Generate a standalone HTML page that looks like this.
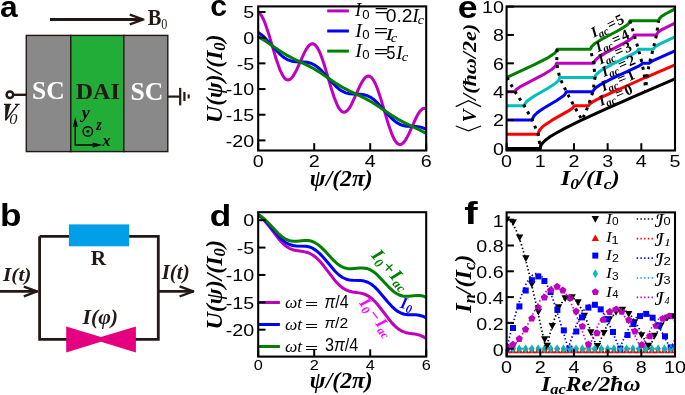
<!DOCTYPE html>
<html><head><meta charset="utf-8"><style>html,body{margin:0;padding:0;background:#fff;overflow:hidden}svg{display:block;will-change:transform}</style></head>
<body><svg width="685" height="395" viewBox="0 0 685 395">
<rect width="685" height="395" fill="#fff"/>
<g transform="translate(-0.06,16.75) scale(1.0603,0.9969)"><text x="0" y="0" font-family="Liberation Sans" font-size="30" font-weight="bold" font-style="normal" fill="#000" text-anchor="start" >a</text></g>
<g transform="translate(-0.05,225.94) scale(1.1733,1.0364)"><text x="0" y="0" font-family="Liberation Sans" font-size="30" font-weight="bold" font-style="normal" fill="#000" text-anchor="start" >b</text></g>
<g transform="translate(210.14,16.45) scale(1.0069,0.9908)"><text x="0" y="0" font-family="Liberation Sans" font-size="30" font-weight="bold" font-style="normal" fill="#000" text-anchor="start" >c</text></g>
<g transform="translate(209.83,225.75) scale(1.1733,1.0091)"><text x="0" y="0" font-family="Liberation Sans" font-size="30" font-weight="bold" font-style="normal" fill="#000" text-anchor="start" >d</text></g>
<g transform="translate(457.71,17.84) scale(1.1931,1.0462)"><text x="0" y="0" font-family="Liberation Sans" font-size="30" font-weight="bold" font-style="normal" fill="#000" text-anchor="start" >e</text></g>
<g transform="translate(464.23,224.10) scale(1.3474,1.0345)"><text x="0" y="0" font-family="Liberation Sans" font-size="30" font-weight="bold" font-style="normal" fill="#000" text-anchor="start" >f</text></g>
<line x1="50" y1="19.5" x2="142.5" y2="19.5" stroke="#231815" stroke-width="2.9"/>
<polyline points="129.8,14.6 143.4,19.5 129.8,24.4" fill="none" stroke="#231815" stroke-width="2.3" stroke-linejoin="round"/>
<g transform="translate(147.65,24.70) scale(0.8912,1.0400)"><text x="0" y="0" font-family="Liberation Serif" font-size="23" font-weight="bold" font-style="normal" fill="#231815" text-anchor="start" >B</text></g>
<g transform="translate(161.27,28.80) scale(0.8667,1.0162)"><text x="0" y="0" font-family="Liberation Serif" font-size="14" font-weight="normal" font-style="normal" fill="#231815" text-anchor="start" >0</text></g>
<rect x="26.3" y="35.4" width="44.5" height="116.2" fill="#898989" stroke="#231815" stroke-width="1.4"/>
<rect x="70.8" y="35.4" width="53" height="116.2" fill="#22ac38" stroke="#231815" stroke-width="1.4"/>
<rect x="123.8" y="35.4" width="44" height="116.2" fill="#898989" stroke="#231815" stroke-width="1.4"/>
<g transform="translate(32.05,99.22) scale(1.1564,1.1254)"><text x="0" y="0" font-family="Liberation Serif" font-size="22" font-weight="bold" font-style="normal" fill="#fff" text-anchor="start" >SC</text></g>
<g transform="translate(75.76,99.10) scale(1.0897,1.0897)"><text x="0" y="0" font-family="Liberation Serif" font-size="22" font-weight="bold" font-style="normal" fill="#231815" text-anchor="start" >DAI</text></g>
<g transform="translate(130.54,100.22) scale(1.1644,1.1186)"><text x="0" y="0" font-family="Liberation Serif" font-size="22" font-weight="bold" font-style="normal" fill="#fff" text-anchor="start" >SC</text></g>
<circle cx="9.9" cy="94.8" r="3.3" fill="#fff" stroke="#231815" stroke-width="2.5"/>
<line x1="13.2" y1="94.8" x2="26" y2="94.8" stroke="#231815" stroke-width="2.4"/>
<path d="M3.9,103.8 L11.2,103.8 L11.2,104.9 L10.2,104.9 L7.1,117.2 L16.6,104.9 L15.0,104.9 L15.0,103.8 L19.6,103.8 L19.6,104.9 L18.4,104.9 L6.4,120.6 L5.0,120.6 L5.3,104.9 L3.9,104.9 Z" fill="#231815"/>
<g transform="translate(9.37,123.60) scale(1.2696,1.1882)"><text x="0" y="0" font-family="Liberation Serif" font-size="13" font-weight="normal" font-style="italic" fill="#231815" text-anchor="start" >0</text></g>
<line x1="167.8" y1="96.6" x2="180" y2="96.6" stroke="#231815" stroke-width="2.2"/>
<line x1="180.2" y1="87.9" x2="180.2" y2="105.4" stroke="#231815" stroke-width="2.2"/>
<line x1="184.4" y1="92" x2="184.4" y2="101" stroke="#231815" stroke-width="2.2"/>
<line x1="188.7" y1="94.4" x2="188.7" y2="98.5" stroke="#231815" stroke-width="2.1"/>
<polyline points="75.3,120.5 75.3,145 99,145" fill="none" stroke="#000" stroke-width="1.4"/>
<polyline points="73.4,126.8 75.3,119.6 77.2,126.8" fill="none" stroke="#000" stroke-width="1.3"/>
<polyline points="92.6,143.1 99.8,145 92.6,146.9" fill="none" stroke="#000" stroke-width="1.3"/>
<circle cx="87.8" cy="131.4" r="4.7" fill="none" stroke="#000" stroke-width="1.4"/>
<circle cx="87.8" cy="131.4" r="1.4" fill="#000"/>
<g transform="translate(81.68,118.15) scale(1.1200,0.9860)"><text x="0" y="0" font-family="Liberation Serif" font-size="16" font-weight="bold" font-style="italic" fill="#000" text-anchor="start" >y</text></g>
<g transform="translate(96.24,130.00) scale(0.8741,1.0897)"><text x="0" y="0" font-family="Liberation Serif" font-size="16" font-weight="bold" font-style="italic" fill="#000" text-anchor="start" >z</text></g>
<g transform="translate(102.55,146.10) scale(1.0065,0.9931)"><text x="0" y="0" font-family="Liberation Serif" font-size="16" font-weight="bold" font-style="italic" fill="#000" text-anchor="start" >x</text></g>
<polyline points="39.6,236.3 158.3,236.3 158.3,339.4 39.6,339.4 39.6,236.3" fill="none" stroke="#231815" stroke-width="2.8"/>
<rect x="68.9" y="224.4" width="60.3" height="21.9" fill="#00a0e9"/>
<g transform="translate(90.75,264.90) scale(1.0133,1.0109)"><text x="0" y="0" font-family="Liberation Serif" font-size="21" font-weight="bold" font-style="normal" fill="#231815" text-anchor="start" >R</text></g>
<polygon points="66.2,326.5 100.9,337 135.9,326.5 135.9,352.5 100.9,341.7 66.2,352.5" fill="#e4007f"/>
<g transform="translate(82.46,323.60) scale(1.0346,1.0000)"><text x="0" y="0" font-family="Liberation Serif" font-size="21" font-weight="bold" font-style="italic" fill="#231815" text-anchor="start" >I(φ)</text></g>
<g transform="translate(3.05,280.56) scale(1.0148,0.9421)"><text x="0" y="0" font-family="Liberation Serif" font-size="21" font-weight="bold" font-style="italic" fill="#231815" text-anchor="start" >I(t)</text></g>
<line x1="0" y1="291.4" x2="37.5" y2="291.4" stroke="#231815" stroke-width="2.8"/>
<polyline points="23.8,286.5 37,291.4 23.8,296.3" fill="none" stroke="#231815" stroke-width="2.4" stroke-linejoin="round"/>
<g transform="translate(161.65,278.59) scale(1.0037,0.9579)"><text x="0" y="0" font-family="Liberation Serif" font-size="21" font-weight="bold" font-style="italic" fill="#231815" text-anchor="start" >I(t)</text></g>
<line x1="158.3" y1="291.4" x2="193.8" y2="291.4" stroke="#231815" stroke-width="2.8"/>
<polyline points="179.6,286.3 193.2,291.4 179.6,296.5" fill="none" stroke="#231815" stroke-width="2.4" stroke-linejoin="round"/>
<clipPath id="clipc"><rect x="258.2" y="6.4" width="168.0" height="144.1"/></clipPath>
<g clip-path="url(#clipc)">
<path d="M258.20,12.00 L259.88,13.42 L261.70,15.97 L263.52,19.51 L265.34,23.92 L268.70,33.90 L276.40,59.83 L280.04,70.05 L283.12,76.20 L284.66,78.23 L286.20,79.50 L287.88,80.01 L289.70,79.56 L291.52,78.12 L293.34,75.80 L296.70,69.69 L304.40,52.64 L306.36,49.06 L308.04,46.61 L309.58,44.98 L311.12,44.01 L312.66,43.77 L314.20,44.27 L315.74,45.54 L317.42,47.78 L319.10,50.88 L320.78,54.75 L324.28,64.83 L331.28,88.49 L334.22,97.54 L337.44,105.45 L338.98,108.25 L340.38,110.18 L342.20,111.77 L344.02,112.28 L345.84,111.75 L347.80,110.09 L349.62,107.64 L351.72,103.94 L359.70,86.34 L363.06,80.24 L364.88,77.92 L366.70,76.48 L368.52,76.03 L370.20,76.54 L371.88,77.96 L373.70,80.51 L375.52,84.05 L377.34,88.46 L380.70,98.44 L388.54,124.81 L392.32,135.26 L394.14,139.08 L395.82,141.75 L397.64,143.66 L399.32,144.48 L400.86,144.43 L402.54,143.55 L404.22,141.87 L405.90,139.47 L408.98,133.65 L416.26,117.47 L418.08,114.07 L419.76,111.52 L421.44,109.64 L423.12,108.55 L424.66,108.31 L426.20,108.81" fill="none" stroke="#bf00bf" stroke-width="3" stroke-linejoin="round"/>
<path d="M258.20,32.54 L261.42,34.73 L264.78,37.67 L278.08,52.28 L281.30,55.37 L284.24,57.70 L288.02,59.89 L291.80,61.20 L295.72,61.78 L303.70,61.93 L307.06,62.26 L310.70,63.19 L314.20,64.81 L317.70,67.22 L321.34,70.49 L332.40,82.77 L336.04,86.49 L339.12,89.14 L342.20,91.22 L345.70,92.85 L349.34,93.77 L352.70,94.10 L360.40,94.24 L364.04,94.71 L367.12,95.61 L370.20,97.08 L373.70,99.49 L377.34,102.76 L388.68,115.34 L392.60,119.28 L396.38,122.34 L400.16,124.50 L403.10,125.56 L406.32,126.18 L416.12,126.50 L419.62,126.90 L422.98,127.83 L426.20,129.36" fill="none" stroke="#0000ff" stroke-width="3" stroke-linejoin="round"/>
<path d="M258.20,36.65 L265.34,41.08 L280.04,51.06 L286.20,54.84 L292.64,58.30 L306.50,64.85 L313.08,68.29 L320.08,72.53 L335.06,82.69 L342.20,87.11 L349.34,90.91 L364.60,98.16 L372.02,102.26 L378.18,106.18 L391.62,115.32 L398.20,119.38 L405.34,123.19 L420.04,130.15 L426.20,133.46" fill="none" stroke="#008000" stroke-width="3" stroke-linejoin="round"/>
</g>
<line x1="327.2" y1="10.9" x2="348.9" y2="10.9" stroke="#bf00bf" stroke-width="3"/>
<line x1="327.2" y1="31.0" x2="348.9" y2="31.0" stroke="#0000ff" stroke-width="3"/>
<line x1="327.2" y1="51.1" x2="348.9" y2="51.1" stroke="#008000" stroke-width="3"/>
<g transform="translate(355.00,16.40) scale(1.1200,1.1091)"><text x="0" y="0" font-family="Liberation Serif" font-size="17" font-weight="normal" font-style="italic" fill="#000" text-anchor="start" >I</text></g>
<g transform="translate(362.25,19.20) scale(1.0957,1.0788)"><text x="0" y="0" font-family="Liberation Sans" font-size="12" font-weight="normal" font-style="normal" fill="#000" text-anchor="start" >0</text></g>
<g transform="translate(374.51,16.24) scale(1.5862,1.0947)"><text x="0" y="0" font-family="Liberation Sans" font-size="15" font-weight="normal" font-style="normal" fill="#000" text-anchor="start" >=</text></g>
<g transform="translate(385.75,21.53) scale(1.1364,1.0750)"><text x="0" y="0" font-family="Liberation Sans" font-size="17" font-weight="normal" font-style="normal" fill="#000" text-anchor="start" >0.2</text></g>
<g transform="translate(412.20,21.80) scale(1.1520,1.1455)"><text x="0" y="0" font-family="Liberation Serif" font-size="17" font-weight="normal" font-style="italic" fill="#000" text-anchor="start" >I</text></g>
<g transform="translate(417.72,24.00) scale(1.1579,1.0182)"><text x="0" y="0" font-family="Liberation Serif" font-size="12" font-weight="normal" font-style="italic" fill="#000" text-anchor="start" >c</text></g>
<g transform="translate(355.20,37.20) scale(1.1840,1.1364)"><text x="0" y="0" font-family="Liberation Serif" font-size="17" font-weight="normal" font-style="italic" fill="#000" text-anchor="start" >I</text></g>
<g transform="translate(362.25,39.20) scale(1.0957,0.9939)"><text x="0" y="0" font-family="Liberation Sans" font-size="12" font-weight="normal" font-style="normal" fill="#000" text-anchor="start" >0</text></g>
<g transform="translate(373.76,35.98) scale(1.6552,1.0316)"><text x="0" y="0" font-family="Liberation Sans" font-size="15" font-weight="normal" font-style="normal" fill="#000" text-anchor="start" >=</text></g>
<g transform="translate(385.50,39.80) scale(1.3120,1.0091)"><text x="0" y="0" font-family="Liberation Serif" font-size="17" font-weight="normal" font-style="italic" fill="#000" text-anchor="start" >I</text></g>
<g transform="translate(390.69,42.10) scale(1.2211,1.0545)"><text x="0" y="0" font-family="Liberation Serif" font-size="12" font-weight="normal" font-style="italic" fill="#000" text-anchor="start" >c</text></g>
<g transform="translate(355.20,57.00) scale(1.1840,1.1455)"><text x="0" y="0" font-family="Liberation Serif" font-size="17" font-weight="normal" font-style="italic" fill="#000" text-anchor="start" >I</text></g>
<g transform="translate(362.25,59.30) scale(1.0957,1.0303)"><text x="0" y="0" font-family="Liberation Sans" font-size="12" font-weight="normal" font-style="normal" fill="#000" text-anchor="start" >0</text></g>
<g transform="translate(373.73,56.69) scale(1.6966,1.1579)"><text x="0" y="0" font-family="Liberation Sans" font-size="15" font-weight="normal" font-style="normal" fill="#000" text-anchor="start" >=</text></g>
<g transform="translate(386.27,58.73) scale(0.9750,1.0667)"><text x="0" y="0" font-family="Liberation Sans" font-size="17" font-weight="normal" font-style="normal" fill="#000" text-anchor="start" >5</text></g>
<g transform="translate(396.00,59.00) scale(1.2000,1.0545)"><text x="0" y="0" font-family="Liberation Serif" font-size="17" font-weight="normal" font-style="italic" fill="#000" text-anchor="start" >I</text></g>
<g transform="translate(401.79,61.30) scale(1.2211,1.0545)"><text x="0" y="0" font-family="Liberation Serif" font-size="12" font-weight="normal" font-style="italic" fill="#000" text-anchor="start" >c</text></g>
<rect x="258.2" y="6.4" width="168.0" height="144.1" fill="none" stroke="#000" stroke-width="2.1"/>
<line x1="258.2" y1="12.00" x2="265.5" y2="12.00" stroke="#000" stroke-width="2"/>
<g transform="translate(254.20,18.20) scale(1.14,1)"><text x="0" y="0" font-family="Liberation Sans" font-size="17.3" font-weight="normal" font-style="normal" fill="#000" text-anchor="end" >5</text></g>
<line x1="258.2" y1="37.68" x2="265.5" y2="37.68" stroke="#000" stroke-width="2"/>
<g transform="translate(254.20,43.88) scale(1.14,1)"><text x="0" y="0" font-family="Liberation Sans" font-size="17.3" font-weight="normal" font-style="normal" fill="#000" text-anchor="end" >0</text></g>
<line x1="258.2" y1="63.36" x2="265.5" y2="63.36" stroke="#000" stroke-width="2"/>
<g transform="translate(254.20,69.56) scale(1.14,1)"><text x="0" y="0" font-family="Liberation Sans" font-size="17.3" font-weight="normal" font-style="normal" fill="#000" text-anchor="end" >-5</text></g>
<line x1="258.2" y1="89.04" x2="265.5" y2="89.04" stroke="#000" stroke-width="2"/>
<g transform="translate(254.20,95.24) scale(1.14,1)"><text x="0" y="0" font-family="Liberation Sans" font-size="17.3" font-weight="normal" font-style="normal" fill="#000" text-anchor="end" >-10</text></g>
<line x1="258.2" y1="114.72" x2="265.5" y2="114.72" stroke="#000" stroke-width="2"/>
<g transform="translate(254.20,120.92) scale(1.14,1)"><text x="0" y="0" font-family="Liberation Sans" font-size="17.3" font-weight="normal" font-style="normal" fill="#000" text-anchor="end" >-15</text></g>
<line x1="258.2" y1="140.40" x2="265.5" y2="140.40" stroke="#000" stroke-width="2"/>
<g transform="translate(254.20,146.60) scale(1.14,1)"><text x="0" y="0" font-family="Liberation Sans" font-size="17.3" font-weight="normal" font-style="normal" fill="#000" text-anchor="end" >-20</text></g>
<line x1="258.20" y1="150.5" x2="258.20" y2="143.2" stroke="#000" stroke-width="2"/>
<g transform="translate(258.20,167.00) scale(1.14,1)"><text x="0" y="0" font-family="Liberation Sans" font-size="17.3" font-weight="normal" font-style="normal" fill="#000" text-anchor="middle" >0</text></g>
<line x1="314.20" y1="150.5" x2="314.20" y2="143.2" stroke="#000" stroke-width="2"/>
<g transform="translate(314.20,167.00) scale(1.14,1)"><text x="0" y="0" font-family="Liberation Sans" font-size="17.3" font-weight="normal" font-style="normal" fill="#000" text-anchor="middle" >2</text></g>
<line x1="370.20" y1="150.5" x2="370.20" y2="143.2" stroke="#000" stroke-width="2"/>
<g transform="translate(370.20,167.00) scale(1.14,1)"><text x="0" y="0" font-family="Liberation Sans" font-size="17.3" font-weight="normal" font-style="normal" fill="#000" text-anchor="middle" >4</text></g>
<line x1="426.20" y1="150.5" x2="426.20" y2="143.2" stroke="#000" stroke-width="2"/>
<g transform="translate(426.20,167.00) scale(1.14,1)"><text x="0" y="0" font-family="Liberation Sans" font-size="17.3" font-weight="normal" font-style="normal" fill="#000" text-anchor="middle" >6</text></g>
<g transform="translate(221.73,78.70) scale(1.1222,1.1833)"><g transform="rotate(-90)"><text x="0" y="0" font-family="Liberation Serif" font-size="20" font-weight="bold" font-style="italic" fill="#000" text-anchor="middle" >U(ψ)/(I<tspan font-size="14" dy="3">0</tspan><tspan dy="-3">)</tspan></text></g></g>
<g transform="translate(309.87,185.54) scale(1.1271,1.0789)"><text x="0" y="0" font-family="Liberation Serif" font-size="21" font-weight="bold" font-style="italic" fill="#000" text-anchor="start" >ψ/(2π)</text></g>
<clipPath id="clipd"><rect x="258.2" y="212.2" width="168.0" height="144.40000000000003"/></clipPath>
<g clip-path="url(#clipd)">
<path d="M258.20,214.72 L261.28,217.32 L264.36,220.52 L268.00,224.94 L279.06,239.39 L282.70,243.32 L286.20,246.32 L289.28,248.26 L292.64,249.69 L296.14,250.58 L303.42,251.60 L306.50,252.25 L309.86,253.44 L313.08,255.22 L316.58,257.95 L320.08,261.49 L323.86,266.04 L335.06,280.67 L338.70,284.60 L342.20,287.60 L345.70,289.76 L349.34,291.19 L352.70,291.96 L360.68,293.11 L364.60,294.20 L368.38,296.06 L372.02,298.74 L374.96,301.56 L378.18,305.22 L391.62,322.60 L394.98,326.15 L398.20,328.88 L401.70,331.04 L405.34,332.47 L408.70,333.24 L416.40,334.33 L420.04,335.28 L423.12,336.62 L426.20,338.57" fill="none" stroke="#bf00bf" stroke-width="3" stroke-linejoin="round"/>
<path d="M258.20,214.72 L261.28,216.94 L264.36,219.77 L268.00,223.73 L279.06,236.82 L282.70,240.31 L286.20,242.88 L289.42,244.50 L292.78,245.49 L296.28,245.92 L306.22,246.28 L309.44,246.96 L312.38,248.12 L316.02,250.36 L319.80,253.61 L323.72,257.81 L335.06,271.22 L338.70,274.71 L342.20,277.28 L345.70,279.01 L349.34,280.00 L352.70,280.35 L360.54,280.50 L364.32,281.06 L367.82,282.26 L371.32,284.26 L374.54,286.83 L377.90,290.18 L388.26,302.50 L391.76,306.35 L395.12,309.46 L398.20,311.68 L401.28,313.24 L404.36,314.20 L408.00,314.71 L415.70,314.86 L419.06,315.21 L422.70,316.19 L426.20,317.93" fill="none" stroke="#0000ff" stroke-width="3" stroke-linejoin="round"/>
<path d="M258.20,214.72 L261.28,216.56 L264.36,219.01 L268.00,222.53 L279.06,234.26 L282.70,237.30 L286.20,239.44 L289.70,240.74 L293.34,241.28 L296.70,241.22 L304.40,240.42 L308.04,240.47 L311.12,241.06 L314.20,242.25 L317.42,244.18 L320.78,246.90 L324.28,250.34 L334.22,260.98 L337.44,263.85 L340.38,265.95 L344.02,267.74 L347.80,268.66 L351.72,268.80 L359.70,267.99 L363.06,267.92 L366.70,268.46 L370.20,269.77 L373.70,271.90 L377.34,274.94 L388.54,286.82 L392.32,290.44 L395.82,293.11 L399.32,294.98 L402.54,295.97 L405.90,296.34 L408.98,296.23 L416.26,295.47 L419.76,295.49 L423.12,296.10 L426.20,297.29" fill="none" stroke="#008000" stroke-width="3" stroke-linejoin="round"/>
</g>
<line x1="258.2" y1="302.5" x2="279.9" y2="302.5" stroke="#bf00bf" stroke-width="3"/>
<g transform="translate(284.95,308.15) scale(1.0903,0.9946)"><text x="0" y="0" font-family="Liberation Serif" font-size="16" font-weight="normal" font-style="italic" fill="#000" text-anchor="start" >ωt</text></g>
<g transform="translate(304.94,308.11) scale(1.4194,0.8400)"><text x="0" y="0" font-family="Liberation Sans" font-size="16" font-weight="normal" font-style="normal" fill="#000" text-anchor="start" >=</text></g>
<g transform="translate(324.45,307.53) scale(1.0022,1.0979)"><text x="0" y="0" font-family="Liberation Sans" font-size="16" font-weight="normal" font-style="normal" fill="#000" text-anchor="start" ><tspan font-style="italic">π</tspan>/4</text></g>
<line x1="258.2" y1="324.5" x2="279.9" y2="324.5" stroke="#0000ff" stroke-width="3"/>
<g transform="translate(284.95,330.15) scale(1.0903,0.9946)"><text x="0" y="0" font-family="Liberation Serif" font-size="16" font-weight="normal" font-style="italic" fill="#000" text-anchor="start" >ωt</text></g>
<g transform="translate(304.94,330.11) scale(1.4194,0.8400)"><text x="0" y="0" font-family="Liberation Sans" font-size="16" font-weight="normal" font-style="normal" fill="#000" text-anchor="start" >=</text></g>
<g transform="translate(324.46,327.77) scale(0.9867,0.9277)"><text x="0" y="0" font-family="Liberation Sans" font-size="16" font-weight="normal" font-style="normal" fill="#000" text-anchor="start" ><tspan font-style="italic">π</tspan>/2</text></g>
<line x1="258.2" y1="346.5" x2="279.9" y2="346.5" stroke="#008000" stroke-width="3"/>
<g transform="translate(284.95,352.15) scale(1.0903,0.9946)"><text x="0" y="0" font-family="Liberation Serif" font-size="16" font-weight="normal" font-style="italic" fill="#000" text-anchor="start" >ωt</text></g>
<g transform="translate(304.94,352.11) scale(1.4194,0.8400)"><text x="0" y="0" font-family="Liberation Sans" font-size="16" font-weight="normal" font-style="normal" fill="#000" text-anchor="start" >=</text></g>
<g transform="translate(324.94,351.22) scale(1.0110,1.1319)"><text x="0" y="0" font-family="Liberation Sans" font-size="16" font-weight="normal" font-style="normal" fill="#000" text-anchor="start" >3<tspan font-style="italic">π</tspan>/4</text></g>
<rect x="258.2" y="212.2" width="168.0" height="144.40000000000003" fill="none" stroke="#000" stroke-width="2.1"/>
<line x1="258.2" y1="220.20" x2="265.5" y2="220.20" stroke="#000" stroke-width="2"/>
<g transform="translate(254.20,226.40) scale(1.14,1)"><text x="0" y="0" font-family="Liberation Sans" font-size="17.3" font-weight="normal" font-style="normal" fill="#000" text-anchor="end" >0</text></g>
<line x1="258.2" y1="247.57" x2="265.5" y2="247.57" stroke="#000" stroke-width="2"/>
<g transform="translate(254.20,253.77) scale(1.14,1)"><text x="0" y="0" font-family="Liberation Sans" font-size="17.3" font-weight="normal" font-style="normal" fill="#000" text-anchor="end" >-5</text></g>
<line x1="258.2" y1="274.95" x2="265.5" y2="274.95" stroke="#000" stroke-width="2"/>
<g transform="translate(254.20,281.15) scale(1.14,1)"><text x="0" y="0" font-family="Liberation Sans" font-size="17.3" font-weight="normal" font-style="normal" fill="#000" text-anchor="end" >-10</text></g>
<line x1="258.2" y1="302.32" x2="265.5" y2="302.32" stroke="#000" stroke-width="2"/>
<g transform="translate(254.20,308.52) scale(1.14,1)"><text x="0" y="0" font-family="Liberation Sans" font-size="17.3" font-weight="normal" font-style="normal" fill="#000" text-anchor="end" >-15</text></g>
<line x1="258.2" y1="329.70" x2="265.5" y2="329.70" stroke="#000" stroke-width="2"/>
<g transform="translate(254.20,335.90) scale(1.14,1)"><text x="0" y="0" font-family="Liberation Sans" font-size="17.3" font-weight="normal" font-style="normal" fill="#000" text-anchor="end" >-20</text></g>
<line x1="258.20" y1="356.6" x2="258.20" y2="349.3" stroke="#000" stroke-width="2"/>
<g transform="translate(258.20,370.20) scale(1.14,1)"><text x="0" y="0" font-family="Liberation Sans" font-size="14.3" font-weight="normal" font-style="normal" fill="#000" text-anchor="middle" >0</text></g>
<line x1="314.20" y1="356.6" x2="314.20" y2="349.3" stroke="#000" stroke-width="2"/>
<g transform="translate(314.20,370.20) scale(1.14,1)"><text x="0" y="0" font-family="Liberation Sans" font-size="14.3" font-weight="normal" font-style="normal" fill="#000" text-anchor="middle" >2</text></g>
<line x1="370.20" y1="356.6" x2="370.20" y2="349.3" stroke="#000" stroke-width="2"/>
<g transform="translate(370.20,370.20) scale(1.14,1)"><text x="0" y="0" font-family="Liberation Sans" font-size="14.3" font-weight="normal" font-style="normal" fill="#000" text-anchor="middle" >4</text></g>
<line x1="426.20" y1="356.6" x2="426.20" y2="349.3" stroke="#000" stroke-width="2"/>
<g transform="translate(426.20,370.20) scale(1.14,1)"><text x="0" y="0" font-family="Liberation Sans" font-size="14.3" font-weight="normal" font-style="normal" fill="#000" text-anchor="middle" >6</text></g>
<g transform="translate(221.73,284.75) scale(1.1222,1.1958)"><g transform="rotate(-90)"><text x="0" y="0" font-family="Liberation Serif" font-size="20" font-weight="bold" font-style="italic" fill="#000" text-anchor="middle" >U(ψ)/(I<tspan font-size="14" dy="3">0</tspan><tspan dy="-3">)</tspan></text></g></g>
<g transform="translate(309.87,388.02) scale(1.1271,1.0632)"><text x="0" y="0" font-family="Liberation Serif" font-size="21" font-weight="bold" font-style="italic" fill="#000" text-anchor="start" >ψ/(2π)</text></g>
<g transform="translate(370.5,256) rotate(48)"><text x="0" y="0" font-family="Liberation Serif" font-size="19" font-weight="bold" font-style="italic" fill="#008000" text-anchor="start" >I<tspan font-size="13" dy="3">0</tspan><tspan dy="-3" dx="1.5">+</tspan><tspan dx="1.5">I</tspan><tspan font-size="13" dy="3">ac</tspan></text></g>
<g transform="translate(399.5,307.5) rotate(14)"><text x="0" y="0" font-family="Liberation Serif" font-size="16.5" font-weight="bold" font-style="italic" fill="#0000ff" text-anchor="start" >I<tspan font-size="12" dy="3">0</tspan></text></g>
<g transform="translate(358.8,303.2) rotate(52)"><text x="0" y="0" font-family="Liberation Serif" font-size="17" font-weight="bold" font-style="italic" fill="#ff00ff" text-anchor="start" >I<tspan font-size="12" dy="3">0</tspan><tspan dy="-3" dx="1.6">−</tspan><tspan dx="1.6">I</tspan><tspan font-size="12" dy="3">ac</tspan></text></g>
<clipPath id="clipe"><rect x="506.6" y="6.5" width="168.39999999999998" height="144.0"/></clipPath>
<g clip-path="url(#clipe)">
<path d="M506.60,148.40 L540.28,148.40 L540.70,146.16 L541.54,144.45 L542.81,142.75 L545.75,139.92 L549.96,136.83 L555.01,133.70 L564.28,128.64 L579.85,120.97 L603.85,109.97 L636.69,95.47 L675.00,78.93" fill="none" stroke="#000" stroke-width="3" stroke-linejoin="round"/>
<path d="M506.60,134.22 L538.18,134.22 L538.60,132.23 L539.86,129.72 L542.81,126.59 L544.91,124.89 L551.65,120.38 L570.59,109.62 L573.12,107.62 L573.96,105.86 L588.27,105.86 L588.70,105.57 L589.54,104.15 L592.06,102.23 L596.69,99.67 L603.43,96.37 L642.58,78.75 L644.69,77.50 L646.37,77.50 L650.58,75.36 L675.00,64.80" fill="none" stroke="#ff0000" stroke-width="3" stroke-linejoin="round"/>
<path d="M506.60,120.04 L532.28,120.04 L533.12,117.50 L533.97,116.08 L536.91,113.03 L539.86,110.71 L543.65,108.17 L556.28,100.73 L562.17,96.81 L564.28,95.07 L565.54,93.45 L566.38,91.68 L592.90,91.68 L593.75,89.99 L595.43,88.05 L600.90,84.35 L611.85,78.68 L639.22,65.79 L641.74,64.14 L642.16,63.32 L649.32,63.32 L650.16,62.46 L653.11,60.58 L675.00,50.77" fill="none" stroke="#0000ff" stroke-width="3" stroke-linejoin="round"/>
<path d="M506.60,105.86 L524.28,105.86 L525.12,103.58 L526.39,101.92 L528.49,99.95 L534.39,95.97 L547.02,88.81 L554.59,84.00 L558.38,80.61 L559.23,79.19 L559.65,77.50 L595.01,77.50 L595.43,76.05 L596.69,74.11 L599.22,71.86 L602.59,69.59 L611.43,64.69 L632.48,54.16 L635.85,52.17 L637.53,50.81 L638.37,49.14 L653.11,49.14 L655.21,46.68 L659.00,44.38 L675.00,36.88" fill="none" stroke="#00bfbf" stroke-width="3" stroke-linejoin="round"/>
<path d="M506.60,91.68 L515.02,91.68 L515.44,90.57 L516.70,89.14 L520.91,86.32 L542.81,74.92 L551.23,69.83 L554.59,66.99 L555.86,65.03 L556.28,63.61 L556.70,63.32 L593.75,63.32 L594.17,63.03 L594.59,61.61 L595.85,59.66 L598.80,57.11 L605.54,52.89 L624.06,43.13 L629.95,39.64 L632.48,37.77 L633.74,36.06 L634.16,34.96 L656.48,34.96 L657.74,32.72 L659.00,31.59 L662.37,29.35 L675.00,23.01" fill="none" stroke="#bf00bf" stroke-width="3" stroke-linejoin="round"/>
<path d="M506.60,77.50 L534.39,64.70 L548.28,57.59 L554.59,53.35 L556.70,50.83 L557.12,49.14 L590.38,49.14 L591.64,46.52 L594.17,44.06 L601.75,39.25 L616.48,31.47 L623.22,27.60 L627.43,24.72 L628.27,23.87 L629.53,22.19 L629.95,20.78 L658.58,20.78 L659.42,18.68 L661.11,16.85 L665.74,13.74 L675.00,8.94" fill="none" stroke="#008000" stroke-width="3" stroke-linejoin="round"/>
<path d="M507.00,77.50 L515.02,91.68 L524.28,105.86 L532.30,120.04 L538.19,134.22 L540.28,148.40" fill="none" stroke="#000" stroke-width="3" stroke-dasharray="3 4.95"/>
<path d="M557.12,49.14 L556.72,63.32 L559.65,77.50 L566.38,91.68 L573.96,105.86 L582.04,120.04 L588.27,105.86 L592.89,91.68 L595.01,77.50 L593.76,63.32 L590.40,49.14" fill="none" stroke="#000" stroke-width="3" stroke-dasharray="3 4.95"/>
<path d="M629.94,20.78 L634.18,34.96 L638.36,49.14 L642.16,63.32 L644.69,77.50 L645.53,91.68 L646.81,77.50 L649.34,63.32 L653.11,49.14 L656.48,34.96 L658.56,20.78" fill="none" stroke="#000" stroke-width="3" stroke-dasharray="3 4.95"/>
</g>
<rect x="506.6" y="6.5" width="168.39999999999998" height="144.0" fill="none" stroke="#000" stroke-width="2.1"/>
<line x1="506.6" y1="148.40" x2="513.9" y2="148.40" stroke="#000" stroke-width="2"/>
<g transform="translate(504.00,154.60) scale(1.14,1)"><text x="0" y="0" font-family="Liberation Sans" font-size="17.3" font-weight="normal" font-style="normal" fill="#000" text-anchor="end" >0</text></g>
<line x1="506.6" y1="120.04" x2="513.9" y2="120.04" stroke="#000" stroke-width="2"/>
<g transform="translate(504.00,126.24) scale(1.14,1)"><text x="0" y="0" font-family="Liberation Sans" font-size="17.3" font-weight="normal" font-style="normal" fill="#000" text-anchor="end" >2</text></g>
<line x1="506.6" y1="91.68" x2="513.9" y2="91.68" stroke="#000" stroke-width="2"/>
<g transform="translate(504.00,97.88) scale(1.14,1)"><text x="0" y="0" font-family="Liberation Sans" font-size="17.3" font-weight="normal" font-style="normal" fill="#000" text-anchor="end" >4</text></g>
<line x1="506.6" y1="63.32" x2="513.9" y2="63.32" stroke="#000" stroke-width="2"/>
<g transform="translate(504.00,69.52) scale(1.14,1)"><text x="0" y="0" font-family="Liberation Sans" font-size="17.3" font-weight="normal" font-style="normal" fill="#000" text-anchor="end" >6</text></g>
<line x1="506.6" y1="34.96" x2="513.9" y2="34.96" stroke="#000" stroke-width="2"/>
<g transform="translate(504.00,41.16) scale(1.14,1)"><text x="0" y="0" font-family="Liberation Sans" font-size="17.3" font-weight="normal" font-style="normal" fill="#000" text-anchor="end" >8</text></g>
<line x1="506.6" y1="6.60" x2="513.9" y2="6.60" stroke="#000" stroke-width="2"/>
<g transform="translate(504.00,12.80) scale(1.14,1)"><text x="0" y="0" font-family="Liberation Sans" font-size="17.3" font-weight="normal" font-style="normal" fill="#000" text-anchor="end" >10</text></g>
<line x1="506.60" y1="150.5" x2="506.60" y2="143.2" stroke="#000" stroke-width="2"/>
<g transform="translate(506.60,166.90) scale(1.14,1)"><text x="0" y="0" font-family="Liberation Sans" font-size="17.3" font-weight="normal" font-style="normal" fill="#000" text-anchor="middle" >0</text></g>
<line x1="540.28" y1="150.5" x2="540.28" y2="143.2" stroke="#000" stroke-width="2"/>
<g transform="translate(540.28,166.90) scale(1.14,1)"><text x="0" y="0" font-family="Liberation Sans" font-size="17.3" font-weight="normal" font-style="normal" fill="#000" text-anchor="middle" >1</text></g>
<line x1="573.96" y1="150.5" x2="573.96" y2="143.2" stroke="#000" stroke-width="2"/>
<g transform="translate(573.96,166.90) scale(1.14,1)"><text x="0" y="0" font-family="Liberation Sans" font-size="17.3" font-weight="normal" font-style="normal" fill="#000" text-anchor="middle" >2</text></g>
<line x1="607.64" y1="150.5" x2="607.64" y2="143.2" stroke="#000" stroke-width="2"/>
<g transform="translate(607.64,166.90) scale(1.14,1)"><text x="0" y="0" font-family="Liberation Sans" font-size="17.3" font-weight="normal" font-style="normal" fill="#000" text-anchor="middle" >3</text></g>
<line x1="641.32" y1="150.5" x2="641.32" y2="143.2" stroke="#000" stroke-width="2"/>
<g transform="translate(641.32,166.90) scale(1.14,1)"><text x="0" y="0" font-family="Liberation Sans" font-size="17.3" font-weight="normal" font-style="normal" fill="#000" text-anchor="middle" >4</text></g>
<line x1="675.00" y1="150.5" x2="675.00" y2="143.2" stroke="#000" stroke-width="2"/>
<g transform="translate(675.00,166.90) scale(1.14,1)"><text x="0" y="0" font-family="Liberation Sans" font-size="17.3" font-weight="normal" font-style="normal" fill="#000" text-anchor="middle" >5</text></g>
<g transform="translate(476.39,130.89) scale(0.9829,1.0153)"><g transform="rotate(-90)"><polyline points="4.9,-21 0,-8.1 4.9,4.8" fill="none" stroke="#000" stroke-width="1.1"/><text x="8.6" y="0" font-family="Liberation Serif" font-size="19" font-weight="bold" font-style="italic" fill="#000" text-anchor="start" >V</text><polyline points="23.9,-21 29.8,-8.1 23.9,4.8" fill="none" stroke="#000" stroke-width="1.1"/><text x="30.5" y="0" font-family="Liberation Serif" font-size="19" font-weight="bold" font-style="italic" fill="#000" text-anchor="start" textLength="75" lengthAdjust="spacingAndGlyphs">/(ħω/2e)</text></g></g>
<g transform="translate(560.69,185.36) scale(1.1716,1.0316)"><text x="0" y="0" font-family="Liberation Serif" font-size="21" font-weight="bold" font-style="italic" fill="#000" text-anchor="start" >I<tspan font-size="15" dy="3.5">0</tspan><tspan dy="-3.5">/(I</tspan><tspan font-size="15" dy="3.5">c</tspan><tspan dy="-3.5">)</tspan></text></g>
<g transform="translate(601,106.1) rotate(-22)"><text x="0" y="0" font-family="Liberation Serif" font-size="15" font-weight="bold" font-style="italic" fill="#000" text-anchor="start" >I<tspan font-size="11" dy="3">ac</tspan><tspan dy="-3" dx="1.6" font-style="normal" font-size="15">=</tspan><tspan dx="1.3" font-style="normal" font-size="15">0</tspan></text></g>
<g transform="translate(603.3,91.5) rotate(-22)"><text x="0" y="0" font-family="Liberation Serif" font-size="15" font-weight="bold" font-style="italic" fill="#000" text-anchor="start" >I<tspan font-size="11" dy="3">ac</tspan><tspan dy="-3" dx="1.6" font-style="normal" font-size="15">=</tspan><tspan dx="1.3" font-style="normal" font-size="15">1</tspan></text></g>
<g transform="translate(604,77) rotate(-22.5)"><text x="0" y="0" font-family="Liberation Serif" font-size="15" font-weight="bold" font-style="italic" fill="#000" text-anchor="start" >I<tspan font-size="11" dy="3">ac</tspan><tspan dy="-3" dx="1.6" font-style="normal" font-size="15">=</tspan><tspan dx="1.3" font-style="normal" font-size="15">2</tspan></text></g>
<g transform="translate(600.6,64.4) rotate(-24)"><text x="0" y="0" font-family="Liberation Serif" font-size="15" font-weight="bold" font-style="italic" fill="#000" text-anchor="start" >I<tspan font-size="11" dy="3">ac</tspan><tspan dy="-3" dx="1.6" font-style="normal" font-size="15">=</tspan><tspan dx="1.3" font-style="normal" font-size="15">3</tspan></text></g>
<g transform="translate(598.1,52.2) rotate(-24)"><text x="0" y="0" font-family="Liberation Serif" font-size="15" font-weight="bold" font-style="italic" fill="#000" text-anchor="start" >I<tspan font-size="11" dy="3">ac</tspan><tspan dy="-3" dx="1.6" font-style="normal" font-size="15">=</tspan><tspan dx="1.3" font-style="normal" font-size="15">4</tspan></text></g>
<g transform="translate(593.7,37.8) rotate(-26)"><text x="0" y="0" font-family="Liberation Serif" font-size="15" font-weight="bold" font-style="italic" fill="#000" text-anchor="start" >I<tspan font-size="11" dy="3">ac</tspan><tspan dy="-3" dx="1.6" font-style="normal" font-size="15">=</tspan><tspan dx="1.3" font-style="normal" font-size="15">5</tspan></text></g>
<clipPath id="clipf"><rect x="506.6" y="212.4" width="168.39999999999998" height="144.1"/></clipPath>
<g clip-path="url(#clipf)">
<polygon points="502.90,216.55 510.30,216.55 506.60,223.21" fill="#000"/>
<polygon points="509.50,219.35 516.90,219.35 513.20,226.01" fill="#000"/>
<polygon points="515.90,234.55 523.30,234.55 519.60,241.21" fill="#000"/>
<polygon points="522.20,255.35 529.60,255.35 525.90,262.01" fill="#000"/>
<polygon points="528.10,281.36 535.50,281.36 531.80,288.01" fill="#000"/>
<polygon points="534.70,308.86 542.10,308.86 538.40,315.51" fill="#000"/>
<polygon points="541.00,336.36 548.40,336.36 544.70,343.01" fill="#000"/>
<polygon points="543.60,342.75 551.00,342.75 547.30,349.41" fill="#000"/>
<polygon points="548.60,323.06 556.00,323.06 552.30,329.71" fill="#000"/>
<polygon points="554.80,304.36 562.20,304.36 558.50,311.01" fill="#000"/>
<polygon points="561.50,295.25 568.90,295.25 565.20,301.91" fill="#000"/>
<polygon points="568.40,294.25 575.80,294.25 572.10,300.91" fill="#000"/>
<polygon points="574.30,299.36 581.70,299.36 578.00,306.01" fill="#000"/>
<polygon points="580.70,312.86 588.10,312.86 584.40,319.51" fill="#000"/>
<polygon points="587.10,329.25 594.50,329.25 590.80,335.91" fill="#000"/>
<polygon points="593.70,343.06 601.10,343.06 597.40,349.71" fill="#000"/>
<polygon points="600.30,329.96 607.70,329.96 604.00,336.62" fill="#000"/>
<polygon points="605.70,316.16 613.10,316.16 609.40,322.81" fill="#000"/>
<polygon points="612.30,309.06 619.70,309.06 616.00,315.71" fill="#000"/>
<polygon points="618.70,306.86 626.10,306.86 622.40,313.51" fill="#000"/>
<polygon points="625.00,311.06 632.40,311.06 628.70,317.71" fill="#000"/>
<polygon points="630.90,319.16 638.30,319.16 634.60,325.81" fill="#000"/>
<polygon points="637.90,332.16 645.30,332.16 641.60,338.81" fill="#000"/>
<polygon points="644.70,342.75 652.10,342.75 648.40,349.41" fill="#000"/>
<polygon points="650.80,332.86 658.20,332.86 654.50,339.51" fill="#000"/>
<polygon points="656.90,323.06 664.30,323.06 660.60,329.71" fill="#000"/>
<polygon points="663.70,314.66 671.10,314.66 667.40,321.31" fill="#000"/>
<polygon points="669.30,313.16 676.70,313.16 673.00,319.81" fill="#000"/>
<polygon points="502.90,353.34 510.30,353.34 506.60,346.69" fill="#ff0000"/>
<polygon points="509.22,353.34 516.62,353.34 512.92,346.69" fill="#ff0000"/>
<polygon points="515.53,353.34 522.93,353.34 519.23,346.69" fill="#ff0000"/>
<polygon points="521.85,353.34 529.25,353.34 525.55,346.69" fill="#ff0000"/>
<polygon points="528.16,353.34 535.56,353.34 531.86,346.69" fill="#ff0000"/>
<polygon points="534.48,353.34 541.88,353.34 538.18,346.69" fill="#ff0000"/>
<polygon points="540.79,353.34 548.19,353.34 544.49,346.69" fill="#ff0000"/>
<polygon points="547.11,353.34 554.51,353.34 550.81,346.69" fill="#ff0000"/>
<polygon points="553.42,353.34 560.82,353.34 557.12,346.69" fill="#ff0000"/>
<polygon points="559.74,353.34 567.14,353.34 563.44,346.69" fill="#ff0000"/>
<polygon points="566.05,353.34 573.45,353.34 569.75,346.69" fill="#ff0000"/>
<polygon points="572.37,353.34 579.77,353.34 576.07,346.69" fill="#ff0000"/>
<polygon points="578.68,353.34 586.08,353.34 582.38,346.69" fill="#ff0000"/>
<polygon points="585.00,353.34 592.40,353.34 588.70,346.69" fill="#ff0000"/>
<polygon points="591.31,353.34 598.71,353.34 595.01,346.69" fill="#ff0000"/>
<polygon points="597.62,353.34 605.03,353.34 601.33,346.69" fill="#ff0000"/>
<polygon points="603.94,353.34 611.34,353.34 607.64,346.69" fill="#ff0000"/>
<polygon points="610.25,353.34 617.66,353.34 613.96,346.69" fill="#ff0000"/>
<polygon points="616.57,353.34 623.97,353.34 620.27,346.69" fill="#ff0000"/>
<polygon points="622.88,353.34 630.29,353.34 626.59,346.69" fill="#ff0000"/>
<polygon points="629.20,353.34 636.60,353.34 632.90,346.69" fill="#ff0000"/>
<polygon points="635.51,353.34 642.92,353.34 639.22,346.69" fill="#ff0000"/>
<polygon points="641.83,353.34 649.23,353.34 645.53,346.69" fill="#ff0000"/>
<polygon points="648.14,353.34 655.55,353.34 651.85,346.69" fill="#ff0000"/>
<polygon points="654.46,353.34 661.86,353.34 658.16,346.69" fill="#ff0000"/>
<polygon points="660.77,353.34 668.18,353.34 664.48,346.69" fill="#ff0000"/>
<polygon points="667.09,353.34 674.49,353.34 670.79,346.69" fill="#ff0000"/>
<rect x="503.60" y="345.70" width="6.0" height="6.0" fill="#0000ff"/>
<rect x="510.00" y="325.00" width="6.0" height="6.0" fill="#0000ff"/>
<rect x="516.40" y="303.40" width="6.0" height="6.0" fill="#0000ff"/>
<rect x="522.70" y="287.50" width="6.0" height="6.0" fill="#0000ff"/>
<rect x="528.90" y="277.20" width="6.0" height="6.0" fill="#0000ff"/>
<rect x="535.30" y="273.40" width="6.0" height="6.0" fill="#0000ff"/>
<rect x="541.40" y="278.00" width="6.0" height="6.0" fill="#0000ff"/>
<rect x="547.60" y="289.00" width="6.0" height="6.0" fill="#0000ff"/>
<rect x="554.40" y="306.90" width="6.0" height="6.0" fill="#0000ff"/>
<rect x="560.80" y="327.40" width="6.0" height="6.0" fill="#0000ff"/>
<rect x="566.50" y="345.60" width="6.0" height="6.0" fill="#0000ff"/>
<rect x="573.30" y="328.50" width="6.0" height="6.0" fill="#0000ff"/>
<rect x="579.00" y="314.40" width="6.0" height="6.0" fill="#0000ff"/>
<rect x="585.40" y="304.60" width="6.0" height="6.0" fill="#0000ff"/>
<rect x="591.90" y="301.80" width="6.0" height="6.0" fill="#0000ff"/>
<rect x="597.70" y="306.40" width="6.0" height="6.0" fill="#0000ff"/>
<rect x="604.30" y="316.30" width="6.0" height="6.0" fill="#0000ff"/>
<rect x="610.00" y="329.00" width="6.0" height="6.0" fill="#0000ff"/>
<rect x="617.30" y="345.60" width="6.0" height="6.0" fill="#0000ff"/>
<rect x="624.50" y="332.00" width="6.0" height="6.0" fill="#0000ff"/>
<rect x="630.50" y="321.00" width="6.0" height="6.0" fill="#0000ff"/>
<rect x="637.00" y="313.10" width="6.0" height="6.0" fill="#0000ff"/>
<rect x="643.20" y="310.90" width="6.0" height="6.0" fill="#0000ff"/>
<rect x="649.60" y="314.70" width="6.0" height="6.0" fill="#0000ff"/>
<rect x="656.00" y="322.30" width="6.0" height="6.0" fill="#0000ff"/>
<rect x="662.00" y="333.30" width="6.0" height="6.0" fill="#0000ff"/>
<rect x="667.70" y="344.40" width="6.0" height="6.0" fill="#0000ff"/>
<polygon points="506.60,344.20 509.30,348.70 506.60,353.20 503.90,348.70" fill="#00bfbf"/>
<polygon points="512.92,344.20 515.62,348.70 512.92,353.20 510.22,348.70" fill="#00bfbf"/>
<polygon points="519.23,344.20 521.93,348.70 519.23,353.20 516.53,348.70" fill="#00bfbf"/>
<polygon points="525.55,344.20 528.25,348.70 525.55,353.20 522.85,348.70" fill="#00bfbf"/>
<polygon points="531.86,344.20 534.56,348.70 531.86,353.20 529.16,348.70" fill="#00bfbf"/>
<polygon points="538.18,344.20 540.88,348.70 538.18,353.20 535.48,348.70" fill="#00bfbf"/>
<polygon points="544.49,344.20 547.19,348.70 544.49,353.20 541.79,348.70" fill="#00bfbf"/>
<polygon points="550.81,344.20 553.51,348.70 550.81,353.20 548.11,348.70" fill="#00bfbf"/>
<polygon points="557.12,344.20 559.82,348.70 557.12,353.20 554.42,348.70" fill="#00bfbf"/>
<polygon points="563.44,344.20 566.14,348.70 563.44,353.20 560.74,348.70" fill="#00bfbf"/>
<polygon points="569.75,344.20 572.45,348.70 569.75,353.20 567.05,348.70" fill="#00bfbf"/>
<polygon points="576.07,344.20 578.77,348.70 576.07,353.20 573.37,348.70" fill="#00bfbf"/>
<polygon points="582.38,344.20 585.08,348.70 582.38,353.20 579.68,348.70" fill="#00bfbf"/>
<polygon points="588.70,344.20 591.40,348.70 588.70,353.20 586.00,348.70" fill="#00bfbf"/>
<polygon points="595.01,344.20 597.71,348.70 595.01,353.20 592.31,348.70" fill="#00bfbf"/>
<polygon points="601.33,344.20 604.03,348.70 601.33,353.20 598.62,348.70" fill="#00bfbf"/>
<polygon points="607.64,344.20 610.34,348.70 607.64,353.20 604.94,348.70" fill="#00bfbf"/>
<polygon points="613.96,344.20 616.66,348.70 613.96,353.20 611.25,348.70" fill="#00bfbf"/>
<polygon points="620.27,344.20 622.97,348.70 620.27,353.20 617.57,348.70" fill="#00bfbf"/>
<polygon points="626.59,344.20 629.29,348.70 626.59,353.20 623.88,348.70" fill="#00bfbf"/>
<polygon points="632.90,344.20 635.60,348.70 632.90,353.20 630.20,348.70" fill="#00bfbf"/>
<polygon points="639.22,344.20 641.92,348.70 639.22,353.20 636.51,348.70" fill="#00bfbf"/>
<polygon points="645.53,344.20 648.23,348.70 645.53,353.20 642.83,348.70" fill="#00bfbf"/>
<polygon points="651.85,344.20 654.55,348.70 651.85,353.20 649.14,348.70" fill="#00bfbf"/>
<polygon points="658.16,344.20 660.86,348.70 658.16,353.20 655.46,348.70" fill="#00bfbf"/>
<polygon points="664.48,344.20 667.18,348.70 664.48,353.20 661.77,348.70" fill="#00bfbf"/>
<polygon points="670.79,344.20 673.49,348.70 670.79,353.20 668.09,348.70" fill="#00bfbf"/>
<polygon points="506.60,342.43 510.21,345.06 508.83,349.31 504.37,349.31 502.99,345.06" fill="#bf00bf"/>
<polygon points="512.92,340.82 516.53,343.45 515.15,347.69 510.68,347.69 509.30,343.45" fill="#bf00bf"/>
<polygon points="519.23,335.02 522.84,337.64 521.46,341.89 517.00,341.89 515.62,337.64" fill="#bf00bf"/>
<polygon points="525.55,325.66 529.16,328.29 527.78,332.54 523.31,332.54 521.93,328.29" fill="#bf00bf"/>
<polygon points="531.86,314.70 535.47,317.32 534.09,321.57 529.63,321.57 528.25,317.32" fill="#bf00bf"/>
<polygon points="538.18,303.73 541.79,306.36 540.41,310.61 535.94,310.61 534.56,306.36" fill="#bf00bf"/>
<polygon points="544.49,293.74 548.10,296.36 546.72,300.61 542.26,300.61 540.88,296.36" fill="#bf00bf"/>
<polygon points="550.81,286.32 554.42,288.94 553.04,293.19 548.57,293.19 547.19,288.94" fill="#bf00bf"/>
<polygon points="557.12,282.77 560.73,285.40 559.35,289.64 554.89,289.64 553.51,285.40" fill="#bf00bf"/>
<polygon points="562.80,286.60 566.41,289.23 565.03,293.47 560.57,293.47 559.19,289.23" fill="#bf00bf"/>
<polygon points="569.90,294.20 573.51,296.83 572.13,301.07 567.67,301.07 566.29,296.83" fill="#bf00bf"/>
<polygon points="576.10,307.50 579.71,310.13 578.33,314.37 573.87,314.37 572.49,310.13" fill="#bf00bf"/>
<polygon points="582.40,322.70 586.01,325.33 584.63,329.57 580.17,329.57 578.79,325.33" fill="#bf00bf"/>
<polygon points="588.50,340.70 592.11,343.33 590.73,347.57 586.27,347.57 584.89,343.33" fill="#bf00bf"/>
<polygon points="597.00,329.30 600.61,331.93 599.23,336.17 594.77,336.17 593.39,331.93" fill="#bf00bf"/>
<polygon points="603.30,316.00 606.91,318.63 605.53,322.87 601.07,322.87 599.69,318.63" fill="#bf00bf"/>
<polygon points="609.70,308.10 613.31,310.73 611.93,314.97 607.47,314.97 606.09,310.73" fill="#bf00bf"/>
<polygon points="616.20,305.60 619.81,308.23 618.43,312.47 613.97,312.47 612.59,308.23" fill="#bf00bf"/>
<polygon points="621.80,307.90 625.41,310.53 624.03,314.77 619.57,314.77 618.19,310.53" fill="#bf00bf"/>
<polygon points="628.70,316.20 632.31,318.83 630.93,323.07 626.47,323.07 625.09,318.83" fill="#bf00bf"/>
<polygon points="634.90,327.60 638.51,330.23 637.13,334.47 632.67,334.47 631.29,330.23" fill="#bf00bf"/>
<polygon points="641.80,341.10 645.41,343.73 644.03,347.97 639.57,347.97 638.19,343.73" fill="#bf00bf"/>
<polygon points="649.80,332.40 653.41,335.03 652.03,339.27 647.57,339.27 646.19,335.03" fill="#bf00bf"/>
<polygon points="656.10,322.00 659.71,324.63 658.33,328.87 653.87,328.87 652.49,324.63" fill="#bf00bf"/>
<polygon points="662.80,314.90 666.41,317.53 665.03,321.77 660.57,321.77 659.19,317.53" fill="#bf00bf"/>
<polygon points="669.00,312.40 672.61,315.03 671.23,319.27 666.77,319.27 665.39,315.03" fill="#bf00bf"/>
<path d="M506.60,219.70 L508.45,220.11 L510.30,221.33 L512.16,223.36 L514.01,226.18 L515.86,229.75 L517.71,234.04 L519.74,239.51 L521.76,245.72 L525.12,257.55 L529.00,273.02 L532.87,289.88 L542.30,332.52 L545.84,347.59 L546.17,348.44 L549.37,336.00 L552.24,326.02 L554.93,317.78 L557.63,310.80 L560.32,305.17 L563.01,300.96 L564.36,299.39 L565.54,298.32 L566.89,297.44 L568.23,296.91 L569.58,296.74 L571.10,296.97 L572.44,297.54 L573.96,298.56 L575.48,299.99 L576.99,301.79 L580.19,306.74 L583.22,312.67 L586.59,320.38 L590.29,329.83 L597.20,348.46 L597.37,348.50 L600.74,339.73 L603.77,332.42 L606.46,326.55 L609.16,321.43 L611.68,317.41 L614.21,314.21 L616.73,311.88 L619.09,310.54 L620.61,310.10 L622.12,309.99 L623.64,310.21 L625.32,310.83 L626.84,311.72 L628.52,313.07 L630.04,314.58 L631.72,316.57 L635.09,321.46 L638.63,327.66 L642.50,335.35 L648.73,348.60 L653.78,338.37 L656.98,332.39 L660.18,327.15 L663.21,323.02 L666.24,319.84 L669.11,317.77 L670.62,317.07 L672.14,316.64 L673.48,316.49 L675.00,316.58" fill="none" stroke="#000" stroke-width="1.7" stroke-dasharray="1.4 2.3"/>
<path d="M506.60,348.70 L511.99,327.41 L515.86,313.11 L519.57,300.85 L522.93,291.32 L526.30,283.65 L527.99,280.58 L529.50,278.28 L531.19,276.26 L532.70,274.92 L534.39,273.99 L535.90,273.65 L537.42,273.78 L539.10,274.47 L540.62,275.57 L542.30,277.31 L543.98,279.58 L545.67,282.35 L549.04,289.28 L552.40,297.81 L556.11,308.64 L568.23,348.53 L572.61,335.36 L575.31,327.88 L578.17,320.84 L581.03,314.89 L583.90,310.17 L586.59,306.92 L587.94,305.75 L589.28,304.88 L590.63,304.32 L591.98,304.07 L593.33,304.12 L594.67,304.46 L596.02,305.10 L597.54,306.16 L598.88,307.39 L600.40,309.08 L603.43,313.38 L606.46,318.74 L609.66,325.32 L619.60,348.58 L623.30,339.90 L626.50,332.96 L629.53,327.11 L632.23,322.65 L634.92,318.99 L637.62,316.21 L640.31,314.38 L641.66,313.82 L642.84,313.54 L644.18,313.45 L645.70,313.63 L647.05,314.05 L648.56,314.80 L650.08,315.84 L651.59,317.15 L654.62,320.54 L657.65,324.83 L661.02,330.47 L664.73,337.41 L670.28,348.50 L670.45,348.57 L675.00,339.72" fill="none" stroke="#0000ff" stroke-width="1.7" stroke-dasharray="1.4 2.3"/>
<path d="M506.60,348.70 L507.95,348.59 L509.29,348.24 L510.64,347.67 L512.16,346.77 L515.02,344.32 L517.88,340.97 L520.91,336.58 L524.28,330.86 L527.65,324.51 L537.08,305.85 L539.94,300.68 L542.64,296.31 L545.67,292.14 L548.53,289.09 L550.05,287.87 L551.39,287.02 L552.74,286.42 L554.09,286.05 L555.94,285.97 L557.79,286.36 L559.48,287.15 L561.33,288.48 L563.18,290.29 L565.03,292.57 L566.89,295.30 L568.74,298.46 L572.44,305.93 L576.32,315.13 L580.02,324.88 L588.61,348.60 L592.15,339.17 L595.35,331.30 L598.21,324.99 L601.07,319.53 L603.77,315.29 L606.29,312.17 L608.99,309.83 L610.33,309.05 L611.51,308.58 L613.03,308.28 L614.54,308.31 L616.06,308.67 L617.58,309.36 L619.09,310.35 L620.78,311.81 L623.97,315.55 L627.17,320.39 L630.71,326.80 L634.42,334.38 L640.98,348.64 L646.54,336.93 L651.09,328.62 L653.28,325.21 L655.30,322.49 L657.32,320.20 L659.17,318.50 L661.19,317.12 L663.04,316.29 L664.90,315.88 L666.92,315.92 L668.94,316.47 L670.96,317.50 L672.98,318.99 L675.00,320.92" fill="none" stroke="#bf00bf" stroke-width="1.7" stroke-dasharray="1.4 2.3"/>
<line x1="506.6" y1="348.7" x2="675.0" y2="348.7" stroke="#ff0000" stroke-width="1.7" stroke-dasharray="1.4 2.3"/>
<line x1="506.6" y1="348.7" x2="675.0" y2="348.7" stroke="#00bfbf" stroke-width="1.7" stroke-dasharray="1.4 2.3"/>
</g>
<rect x="506.6" y="212.4" width="168.39999999999998" height="144.1" fill="none" stroke="#000" stroke-width="2.1"/>
<line x1="506.6" y1="348.70" x2="513.9" y2="348.70" stroke="#000" stroke-width="2"/>
<g transform="translate(503.80,355.50) scale(1.14,1)"><text x="0" y="0" font-family="Liberation Sans" font-size="17.3" font-weight="normal" font-style="normal" fill="#000" text-anchor="end" >0</text></g>
<line x1="506.6" y1="322.90" x2="513.9" y2="322.90" stroke="#000" stroke-width="2"/>
<g transform="translate(503.80,329.70) scale(1.14,1)"><text x="0" y="0" font-family="Liberation Sans" font-size="17.3" font-weight="normal" font-style="normal" fill="#000" text-anchor="end" >0.2</text></g>
<line x1="506.6" y1="297.10" x2="513.9" y2="297.10" stroke="#000" stroke-width="2"/>
<g transform="translate(503.80,303.90) scale(1.14,1)"><text x="0" y="0" font-family="Liberation Sans" font-size="17.3" font-weight="normal" font-style="normal" fill="#000" text-anchor="end" >0.4</text></g>
<line x1="506.6" y1="271.30" x2="513.9" y2="271.30" stroke="#000" stroke-width="2"/>
<g transform="translate(503.80,278.10) scale(1.14,1)"><text x="0" y="0" font-family="Liberation Sans" font-size="17.3" font-weight="normal" font-style="normal" fill="#000" text-anchor="end" >0.6</text></g>
<line x1="506.6" y1="245.50" x2="513.9" y2="245.50" stroke="#000" stroke-width="2"/>
<g transform="translate(503.80,252.30) scale(1.14,1)"><text x="0" y="0" font-family="Liberation Sans" font-size="17.3" font-weight="normal" font-style="normal" fill="#000" text-anchor="end" >0.8</text></g>
<line x1="506.6" y1="219.70" x2="513.9" y2="219.70" stroke="#000" stroke-width="2"/>
<g transform="translate(503.80,226.50) scale(1.14,1)"><text x="0" y="0" font-family="Liberation Sans" font-size="17.3" font-weight="normal" font-style="normal" fill="#000" text-anchor="end" >1</text></g>
<line x1="506.60" y1="356.5" x2="506.60" y2="349.2" stroke="#000" stroke-width="2"/>
<g transform="translate(506.60,372.70) scale(1.14,1)"><text x="0" y="0" font-family="Liberation Sans" font-size="17.3" font-weight="normal" font-style="normal" fill="#000" text-anchor="middle" >0</text></g>
<line x1="540.28" y1="356.5" x2="540.28" y2="349.2" stroke="#000" stroke-width="2"/>
<g transform="translate(540.28,372.70) scale(1.14,1)"><text x="0" y="0" font-family="Liberation Sans" font-size="17.3" font-weight="normal" font-style="normal" fill="#000" text-anchor="middle" >2</text></g>
<line x1="573.96" y1="356.5" x2="573.96" y2="349.2" stroke="#000" stroke-width="2"/>
<g transform="translate(573.96,372.70) scale(1.14,1)"><text x="0" y="0" font-family="Liberation Sans" font-size="17.3" font-weight="normal" font-style="normal" fill="#000" text-anchor="middle" >4</text></g>
<line x1="607.64" y1="356.5" x2="607.64" y2="349.2" stroke="#000" stroke-width="2"/>
<g transform="translate(607.64,372.70) scale(1.14,1)"><text x="0" y="0" font-family="Liberation Sans" font-size="17.3" font-weight="normal" font-style="normal" fill="#000" text-anchor="middle" >6</text></g>
<line x1="641.32" y1="356.5" x2="641.32" y2="349.2" stroke="#000" stroke-width="2"/>
<g transform="translate(641.32,372.70) scale(1.14,1)"><text x="0" y="0" font-family="Liberation Sans" font-size="17.3" font-weight="normal" font-style="normal" fill="#000" text-anchor="middle" >8</text></g>
<line x1="675.00" y1="356.5" x2="675.00" y2="349.2" stroke="#000" stroke-width="2"/>
<g transform="translate(675.00,372.70) scale(1.14,1)"><text x="0" y="0" font-family="Liberation Sans" font-size="17.3" font-weight="normal" font-style="normal" fill="#000" text-anchor="middle" >10</text></g>
<g transform="translate(471.25,312.76) scale(0.9422,0.9668)"><g transform="rotate(-90)"><text x="0" y="0" font-family="Liberation Serif" font-size="25" font-weight="bold" font-style="italic" fill="#000" text-anchor="start" >I<tspan font-size="17" dy="4">n</tspan><tspan dy="-4">/(I</tspan><tspan font-size="17" dy="4">c</tspan><tspan dy="-4">)</tspan></text></g></g>
<g transform="translate(541.17,390.99) scale(1.0956,0.9730)"><text x="0" y="0" font-family="Liberation Serif" font-size="21.5" font-weight="bold" font-style="italic" fill="#000" text-anchor="start" >I<tspan font-size="15" dy="3.5">ac</tspan><tspan dy="-3.5">Re/2ħω</tspan></text></g>
<polygon points="591.60,216.05 599.00,216.05 595.30,222.71" fill="#000"/>
<g transform="translate(606.00,223.70) scale(1.1000,0.9048)"><text x="0" y="0" font-family="Liberation Serif" font-size="16" font-weight="normal" font-style="italic" fill="#000" text-anchor="start" >I</text></g>
<g transform="translate(611.90,225.30) scale(0.9913,0.9212)"><text x="0" y="0" font-family="Liberation Sans" font-size="12" font-weight="normal" font-style="normal" fill="#000" text-anchor="start" >0</text></g>
<line x1="636.7" y1="219.0" x2="653" y2="219.0" stroke="#000" stroke-width="1.7" stroke-dasharray="1.4 2.3"/>
<g transform="translate(654.49,226.72) scale(1.2250,1.1200)"><text x="0" y="0" font-family="Liberation Serif" font-size="17" font-weight="normal" font-style="italic" fill="#000" text-anchor="start" >J</text></g>
<path d="M658.3,214.9 Q656.7,216.2 657.5,218.3" fill="none" stroke="#000" stroke-width="1.3" stroke-linecap="round"/>
<g transform="translate(663.47,225.30) scale(1.0609,0.8606)"><text x="0" y="0" font-family="Liberation Sans" font-size="12" font-weight="normal" font-style="normal" fill="#000" text-anchor="start" >0</text></g>
<polygon points="591.60,241.05 599.00,241.05 595.30,234.39" fill="#ff0000"/>
<g transform="translate(606.00,241.90) scale(1.1000,0.9048)"><text x="0" y="0" font-family="Liberation Serif" font-size="16" font-weight="normal" font-style="italic" fill="#000" text-anchor="start" >I</text></g>
<g transform="translate(611.26,243.50) scale(1.1400,0.9212)"><text x="0" y="0" font-family="Liberation Sans" font-size="12" font-weight="normal" font-style="normal" fill="#000" text-anchor="start" >1</text></g>
<line x1="636.7" y1="238.6" x2="653" y2="238.6" stroke="#ff0000" stroke-width="1.7" stroke-dasharray="1.4 2.3"/>
<g transform="translate(654.49,246.32) scale(1.2250,1.1200)"><text x="0" y="0" font-family="Liberation Serif" font-size="17" font-weight="normal" font-style="italic" fill="#000" text-anchor="start" >J</text></g>
<path d="M658.3,234.5 Q656.7,235.8 657.5,237.9" fill="none" stroke="#000" stroke-width="1.3" stroke-linecap="round"/>
<g transform="translate(664.02,245.60) scale(1.1529,0.9375)"><text x="0" y="0" font-family="Liberation Serif" font-size="12" font-weight="normal" font-style="italic" fill="#000" text-anchor="start" >1</text></g>
<rect x="592.30" y="252.60" width="6.0" height="6.0" fill="#0000ff"/>
<g transform="translate(606.00,260.10) scale(1.1000,0.9048)"><text x="0" y="0" font-family="Liberation Serif" font-size="16" font-weight="normal" font-style="italic" fill="#000" text-anchor="start" >I</text></g>
<g transform="translate(611.88,261.70) scale(1.0364,0.9212)"><text x="0" y="0" font-family="Liberation Sans" font-size="12" font-weight="normal" font-style="normal" fill="#000" text-anchor="start" >2</text></g>
<line x1="636.7" y1="258.2" x2="653" y2="258.2" stroke="#0000ff" stroke-width="1.7" stroke-dasharray="1.4 2.3"/>
<g transform="translate(654.49,265.92) scale(1.2250,1.1200)"><text x="0" y="0" font-family="Liberation Serif" font-size="17" font-weight="normal" font-style="italic" fill="#000" text-anchor="start" >J</text></g>
<path d="M658.3,254.1 Q656.7,255.4 657.5,257.5" fill="none" stroke="#000" stroke-width="1.3" stroke-linecap="round"/>
<g transform="translate(663.45,264.50) scale(1.1091,0.8606)"><text x="0" y="0" font-family="Liberation Sans" font-size="12" font-weight="normal" font-style="normal" fill="#000" text-anchor="start" >2</text></g>
<polygon points="595.30,269.30 598.00,273.80 595.30,278.30 592.60,273.80" fill="#00bfbf"/>
<g transform="translate(606.00,278.30) scale(1.1000,0.9048)"><text x="0" y="0" font-family="Liberation Serif" font-size="16" font-weight="normal" font-style="italic" fill="#000" text-anchor="start" >I</text></g>
<g transform="translate(611.90,279.90) scale(0.9913,0.9212)"><text x="0" y="0" font-family="Liberation Sans" font-size="12" font-weight="normal" font-style="normal" fill="#000" text-anchor="start" >3</text></g>
<line x1="636.7" y1="277.8" x2="653" y2="277.8" stroke="#00bfbf" stroke-width="1.7" stroke-dasharray="1.4 2.3"/>
<g transform="translate(654.49,285.52) scale(1.2250,1.1200)"><text x="0" y="0" font-family="Liberation Serif" font-size="17" font-weight="normal" font-style="italic" fill="#000" text-anchor="start" >J</text></g>
<path d="M658.3,273.7 Q656.7,275.0 657.5,277.1" fill="none" stroke="#000" stroke-width="1.3" stroke-linecap="round"/>
<g transform="translate(663.47,284.10) scale(1.0609,0.8606)"><text x="0" y="0" font-family="Liberation Sans" font-size="12" font-weight="normal" font-style="normal" fill="#000" text-anchor="start" >3</text></g>
<polygon points="595.30,288.20 598.91,290.83 597.53,295.07 593.07,295.07 591.69,290.83" fill="#bf00bf"/>
<g transform="translate(606.00,296.50) scale(1.1000,0.9048)"><text x="0" y="0" font-family="Liberation Serif" font-size="16" font-weight="normal" font-style="italic" fill="#000" text-anchor="start" >I</text></g>
<g transform="translate(612.16,298.10) scale(0.9500,0.9212)"><text x="0" y="0" font-family="Liberation Sans" font-size="12" font-weight="normal" font-style="normal" fill="#000" text-anchor="start" >4</text></g>
<line x1="636.7" y1="297.4" x2="653" y2="297.4" stroke="#bf00bf" stroke-width="1.7" stroke-dasharray="1.4 2.3"/>
<g transform="translate(654.49,305.12) scale(1.2250,1.1200)"><text x="0" y="0" font-family="Liberation Serif" font-size="17" font-weight="normal" font-style="italic" fill="#000" text-anchor="start" >J</text></g>
<path d="M658.3,293.3 Q656.7,294.6 657.5,296.7" fill="none" stroke="#000" stroke-width="1.3" stroke-linecap="round"/>
<g transform="translate(664.60,304.40) scale(0.8522,0.9375)"><text x="0" y="0" font-family="Liberation Serif" font-size="12" font-weight="normal" font-style="italic" fill="#000" text-anchor="start" >4</text></g>
</svg></body></html>
